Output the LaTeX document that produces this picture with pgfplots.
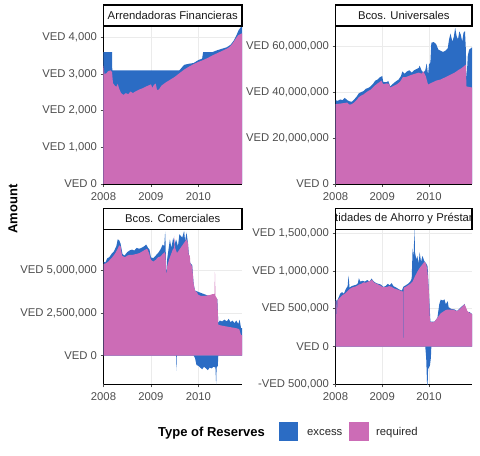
\documentclass[border=0pt]{standalone}
\usepackage{pgfplots}
\pgfplotsset{compat=1.18}
\usepackage{fontspec}
\setmainfont{Liberation Sans}
\definecolor{exc}{HTML}{2B6CC4}
\definecolor{req}{HTML}{CC6CB6}
\definecolor{gridc}{HTML}{EBEBEB}
\definecolor{tickc}{HTML}{4D4D4D}
\newcommand{\tfont}{\fontsize{11.3bp}{13bp}\selectfont}
\newcommand{\bfont}{\bfseries\fontsize{13bp}{15bp}\selectfont}

\pgfplotsset{
  panel/.style={
    scale only axis, anchor=south west,
    xmin=2008, xmax=2010.92,
    xtick={2008,2009,2010}, xticklabels={2008,2009,2010},
    axis x line*=bottom, axis y line*=left,
    axis line style={-, black, line width=0.9bp},
    tick style={tickc, line width=0.6bp},
    tick align=outside, major tick length=3bp,
    grid=major, grid style={gridc, line width=0.6bp},
    ticklabel style={font=\tfont, text=tickc},
    xticklabel style={yshift=-2bp},
  },
  area/.style={draw=none, fill=#1},
}

\begin{document}
\begin{tikzpicture}
\path[use as bounding box] (0,0) rectangle (480bp,456bp);

% ---- Arrendadoras Financieras
\begin{axis}[panel, at={(103.5bp,272bp)}, width=138.5bp, height=158bp,
  ymin=0, ymax=4310, ytick={0,1000,2000,3000,4000},
  yticklabels={{VED 0},{VED 1,000},{VED 2,000},{VED 3,000},{VED 4,000}}]
\addplot[area=exc] coordinates {
  (2008.0,3600) (2008.18,3600) (2008.185,3100) (2009.6,3100) (2009.7,3250)
  (2009.8,3280) (2009.9,3300) (2010.0,3380) (2010.08,3420) (2010.1,3600)
  (2010.3,3600) (2010.4,3650) (2010.5,3690) (2010.6,3730) (2010.68,3800)
  (2010.75,3920) (2010.8,4050) (2010.85,4200) (2010.92,4320)} \closedcycle;
\addplot[area=req] coordinates {
  (2008.0,3220) (2008.02,3000) (2008.06,3020) (2008.1,3080) (2008.15,3100)
  (2008.18,3050) (2008.2,2750) (2008.24,2680) (2008.27,2650) (2008.3,2730)
  (2008.33,2600) (2008.37,2480) (2008.42,2430) (2008.47,2480) (2008.52,2450)
  (2008.57,2520) (2008.62,2480) (2008.68,2530) (2008.76,2580) (2008.84,2620)
  (2008.9,2660) (2008.97,2700) (2009.0,2720) (2009.03,2620) (2009.06,2700)
  (2009.1,2740) (2009.13,2560) (2009.17,2580) (2009.22,2680) (2009.3,2760)
  (2009.4,2840) (2009.5,2920) (2009.6,3020) (2009.7,3120) (2009.8,3200)
  (2009.9,3270) (2010.0,3330) (2010.1,3380) (2010.2,3440) (2010.3,3510)
  (2010.4,3570) (2010.5,3630) (2010.6,3690) (2010.66,3740) (2010.72,3830)
  (2010.78,3950) (2010.84,4060) (2010.92,4110)} \closedcycle;
\end{axis}

% ---- Bcos. Universales (millions)
\begin{axis}[panel, at={(335.5bp,272bp)}, width=136.5bp, height=158bp,
  ymin=0, ymax=68.8, ytick={0,20,40,60},
  yticklabels={{VED 0},{VED 20,000,000},{VED 40,000,000},{VED 60,000,000}}]
\addplot[area=exc] coordinates {
  (2008.0,36.5) (2008.05,36.2) (2008.1,36.8) (2008.15,36.5) (2008.2,37.5)
  (2008.25,36.5) (2008.3,36.0) (2008.35,35.8) (2008.4,36.8) (2008.45,38.0)
  (2008.5,39.5) (2008.55,40.0) (2008.6,40.5) (2008.65,41.5) (2008.7,41.8)
  (2008.75,42.5) (2008.8,43.5) (2008.85,45.0) (2008.9,45.5) (2008.95,46.5)
  (2009.0,47.0) (2009.02,44.5) (2009.08,44.3) (2009.13,44.8) (2009.17,42.5)
  (2009.22,43.5) (2009.28,44.5) (2009.35,45.5) (2009.4,47.0) (2009.43,49.0)
  (2009.48,48.0) (2009.53,49.0) (2009.58,49.5) (2009.63,48.5) (2009.68,49.5)
  (2009.73,50.0) (2009.78,50.5) (2009.8,51.5) (2009.84,49.5) (2009.88,48.5)
  (2009.92,49.5) (2009.95,52.5) (2009.98,47.5) (2010.0,52.0) (2010.03,53.0)
  (2010.05,61.5) (2010.1,61.8) (2010.15,61.0) (2010.2,58.5) (2010.25,58.0)
  (2010.3,57.5) (2010.35,58.0) (2010.4,59.0) (2010.43,63.0) (2010.46,65.5)
  (2010.5,62.0) (2010.53,64.0) (2010.56,68.0) (2010.59,64.5) (2010.62,63.0)
  (2010.65,66.5) (2010.68,65.0) (2010.71,62.0) (2010.74,66.0) (2010.77,66.5)
  (2010.79,58.0) (2010.8,44.0) (2010.83,56.0) (2010.86,58.5) (2010.92,59.5)} \closedcycle;
\addplot[area=req] coordinates {
  (2008.0,34.8) (2008.1,35.0) (2008.2,35.3) (2008.25,35.5) (2008.3,34.5)
  (2008.35,34.8) (2008.4,35.5) (2008.45,36.5) (2008.5,37.8) (2008.55,38.5)
  (2008.6,39.0) (2008.65,39.8) (2008.7,40.5) (2008.75,41.0) (2008.8,42.0)
  (2008.85,43.0) (2008.9,43.8) (2008.95,44.5) (2008.98,45.0) (2009.02,43.5)
  (2009.1,43.8) (2009.15,43.5) (2009.17,42.0) (2009.25,42.8) (2009.32,43.5)
  (2009.38,44.5) (2009.44,46.5) (2009.5,46.5) (2009.56,47.0) (2009.62,47.5)
  (2009.7,48.0) (2009.78,48.5) (2009.84,48.0) (2009.88,49.0) (2009.93,47.0)
  (2009.98,43.3) (2010.05,44.0) (2010.15,45.0) (2010.25,45.5) (2010.35,46.5)
  (2010.45,47.5) (2010.55,48.5) (2010.62,49.5) (2010.7,50.5) (2010.76,51.5)
  (2010.79,52.0) (2010.8,42.5) (2010.92,42.0)} \closedcycle;
\end{axis}

% ---- Bcos. Comerciales (millions)
\begin{axis}[panel, at={(103.5bp,71.7bp)}, width=138.5bp, height=155bp,
  ymin=-1.68, ymax=7.39, ytick={0,2.5,5},
  yticklabels={{VED 0},{VED 2,500,000},{VED 5,000,000}}]
\addplot[area=exc] coordinates {
  (2008.0,5.5) (2008.04,5.45) (2008.08,5.7) (2008.12,5.75) (2008.17,5.95)
  (2008.22,6.1) (2008.27,6.4) (2008.3,6.8) (2008.33,6.75) (2008.36,6.55)
  (2008.4,5.95) (2008.44,5.85) (2008.5,6.05) (2008.55,6.15) (2008.6,6.2)
  (2008.65,6.15) (2008.7,6.3) (2008.75,6.25) (2008.8,6.3) (2008.86,6.4)
  (2008.9,6.5) (2008.94,6.3) (2008.97,6.2) (2009.0,5.75) (2009.05,5.7)
  (2009.1,5.85) (2009.15,6.0) (2009.2,6.2) (2009.25,6.5) (2009.28,6.4)
  (2009.3,7.25) (2009.31,6.5) (2009.32,4.6) (2009.34,5.6) (2009.37,6.2)
  (2009.4,6.8) (2009.43,6.3) (2009.47,6.9) (2009.5,6.5) (2009.53,6.8)
  (2009.57,6.4) (2009.6,7.1) (2009.63,7.0) (2009.66,6.9) (2009.7,7.3)
  (2009.72,6.7) (2009.75,7.2) (2009.78,6.6) (2009.8,5.9) (2009.83,5.4)
  (2009.87,5.3) (2009.9,4.2) (2009.93,3.8) (2010.4,3.3) (2010.42,1.9)
  (2010.45,2.05) (2010.5,2.0) (2010.55,2.1) (2010.6,2.0) (2010.64,2.15)
  (2010.68,1.95) (2010.72,2.05) (2010.76,1.9) (2010.8,2.05) (2010.84,1.85)
  (2010.87,2.1) (2010.9,1.6) (2010.92,1.6)} \closedcycle;
\addplot[area=req] coordinates {
  (2008.0,5.35) (2008.05,5.4) (2008.1,5.5) (2008.15,5.65) (2008.2,5.8)
  (2008.25,6.0) (2008.3,6.25) (2008.33,6.45) (2008.36,6.4) (2008.39,5.85)
  (2008.45,5.75) (2008.5,5.85) (2008.56,5.9) (2008.62,5.9) (2008.7,5.95)
  (2008.76,6.0) (2008.82,6.1) (2008.88,6.2) (2008.92,6.25) (2008.96,6.0)
  (2009.0,5.6) (2009.05,5.5) (2009.1,5.6) (2009.15,5.75) (2009.2,5.8)
  (2009.25,5.95) (2009.29,6.05) (2009.31,5.9) (2009.32,4.6) (2009.34,5.2)
  (2009.38,5.6) (2009.42,5.9) (2009.46,6.2) (2009.49,6.3) (2009.5,7.0)
  (2009.51,6.3) (2009.55,6.0) (2009.6,6.2) (2009.65,6.4) (2009.7,6.6)
  (2009.75,6.8) (2009.78,6.6) (2009.8,5.8) (2009.82,5.9) (2009.83,5.4)
  (2009.87,5.2) (2009.9,4.2) (2009.93,3.8) (2009.97,3.7) (2010.0,3.55)
  (2010.05,3.5) (2010.15,3.5) (2010.25,3.55) (2010.3,3.6) (2010.34,3.6)
  (2010.35,4.9) (2010.36,3.5) (2010.4,3.3) (2010.42,1.8) (2010.5,1.75)
  (2010.6,1.7) (2010.7,1.65) (2010.8,1.6) (2010.86,1.55) (2010.9,1.2)
  (2010.92,1.2)} \closedcycle;
\addplot[area=exc] coordinates {
  (2009.53,0) (2009.535,-0.9) (2009.545,0)} \closedcycle;
\addplot[area=exc] coordinates {
  (2009.9,0) (2009.93,-0.15) (2009.96,-0.55) (2010.0,-0.6) (2010.04,-0.7)
  (2010.08,-0.8) (2010.12,-0.65) (2010.16,-0.75) (2010.2,-0.85) (2010.24,-0.7)
  (2010.28,-0.75) (2010.32,-0.65) (2010.36,-0.7) (2010.375,-1.7) (2010.385,-0.7)
  (2010.41,-0.6) (2010.42,0)} \closedcycle;
\end{axis}

% ---- Entidades de Ahorro y Prestamo (thousands)
\begin{axis}[panel, at={(335.5bp,71.7bp)}, width=136.5bp, height=155bp,
  ymin=-500, ymax=1552, ytick={-500,0,500,1000,1500},
  yticklabels={{-VED 500,000},{VED 0},{VED 500,000},{VED 1,000,000},{VED 1,500,000}}]
\addplot[area=exc] coordinates {
  (2008.0,630) (2008.03,600) (2008.06,640) (2008.1,700) (2008.14,720)
  (2008.18,700) (2008.22,760) (2008.26,800) (2008.28,940) (2008.3,780)
  (2008.35,800) (2008.4,810) (2008.45,820) (2008.48,840) (2008.5,905)
  (2008.53,860) (2008.58,870) (2008.63,860) (2008.68,880) (2008.73,860)
  (2008.77,900) (2008.82,860) (2008.87,840) (2008.92,830) (2008.97,820)
  (2009.02,790) (2009.07,800) (2009.12,830) (2009.16,810) (2009.2,840)
  (2009.24,800) (2009.3,780) (2009.35,760) (2009.42,740) (2009.45,790)
  (2009.5,810) (2009.55,830) (2009.6,860) (2009.63,900) (2009.65,1300)
  (2009.67,1180) (2009.69,1560) (2009.7,1250) (2009.73,1150) (2009.75,1200)
  (2009.78,1100) (2009.8,1250) (2009.83,1120) (2009.86,1200) (2009.9,1130)
  (2009.94,1100) (2009.97,1060) (2010.0,700) (2010.03,330) (2010.12,330)
  (2010.18,380) (2010.22,560) (2010.25,620) (2010.3,610) (2010.33,625)
  (2010.36,560) (2010.4,600) (2010.42,520) (2010.47,500) (2010.55,490)
  (2010.6,470) (2010.65,500) (2010.7,530) (2010.74,550) (2010.76,565)
  (2010.79,500) (2010.83,450) (2010.86,460) (2010.92,430)} \closedcycle;
\addplot[area=req] coordinates {
  (2008.0,600) (2008.02,600) (2008.025,430) (2008.035,430) (2008.04,610)
  (2008.1,650) (2008.15,680) (2008.2,700) (2008.25,730) (2008.3,760)
  (2008.35,780) (2008.4,790) (2008.45,800) (2008.5,820) (2008.55,830)
  (2008.6,850) (2008.65,845) (2008.7,860) (2008.75,870) (2008.78,885)
  (2008.82,850) (2008.88,830) (2008.95,810) (2009.0,790) (2009.05,785)
  (2009.1,790) (2009.15,800) (2009.2,790) (2009.25,770) (2009.3,760)
  (2009.35,750) (2009.42,730) (2009.445,730) (2009.45,0) (2009.455,0)
  (2009.46,780) (2009.5,790) (2009.55,810) (2009.6,830) (2009.65,860)
  (2009.7,930) (2009.75,990) (2009.8,1040) (2009.85,1080) (2009.9,1120)
  (2009.93,1100) (2009.96,1040) (2009.98,900) (2010.0,700) (2010.02,330)
  (2010.08,320) (2010.12,330) (2010.18,380) (2010.25,440) (2010.3,460)
  (2010.35,480) (2010.4,490) (2010.45,490) (2010.5,490) (2010.55,480)
  (2010.6,470) (2010.65,490) (2010.7,520) (2010.74,545) (2010.76,560)
  (2010.79,520) (2010.82,470) (2010.86,450) (2010.92,430)} \closedcycle;
\addplot[area=exc] coordinates {
  (2009.92,0) (2009.94,-150) (2009.96,-520) (2009.97,-520) (2009.98,-300)
  (2010.02,-250) (2010.04,-150) (2010.05,0)} \closedcycle;
\end{axis}

% ---- facet strips
\draw[line width=1.1bp, fill=white] (103.5bp,430bp) rectangle (242bp,451bp);
\node[font=\tfont, text=black!90] at (172.75bp,440.5bp) {Arrendadoras Financieras};
\draw[line width=1.1bp, fill=white] (335.5bp,430bp) rectangle (472bp,451bp);
\node[font=\tfont, text=black!90] at (403.75bp,440.5bp) {Bcos. Universales};
\draw[line width=1.1bp, fill=white] (103.5bp,226.7bp) rectangle (242bp,247.7bp);
\node[font=\tfont, text=black!90] at (172.75bp,237.2bp) {Bcos. Comerciales};
% the long facet name overflows its strip and is cut at both ends, as in the reference
\fill[white] (335.5bp,226.7bp) rectangle (472bp,247.7bp);
\begin{scope}
  \clip (335.5bp,226.7bp) rectangle (472bp,247.7bp);
  \node[font=\tfont, text=black!90] at (403bp,237.2bp)
    {Entidades de Ahorro y Préstamo};
\end{scope}
\draw[line width=1.1bp] (335.5bp,226.7bp) rectangle (472bp,247.7bp);

% ---- y label
\node[rotate=90, font=\bfont] at (13bp,247bp) {Amount};

% ---- legend
\node[anchor=west, inner sep=0pt, font=\bfont] at (158bp,23bp) {Type of Reserves};
\fill[exc] (279.3bp,15bp) rectangle (298bp,33.7bp);
\node[anchor=west, inner sep=0pt, font=\tfont, text=black!85] at (307bp,23bp) {excess};
\fill[req] (349.3bp,15bp) rectangle (368.7bp,33.7bp);
\node[anchor=west, inner sep=0pt, font=\tfont, text=black!85] at (376bp,23bp) {required};
\end{tikzpicture}
\end{document}
